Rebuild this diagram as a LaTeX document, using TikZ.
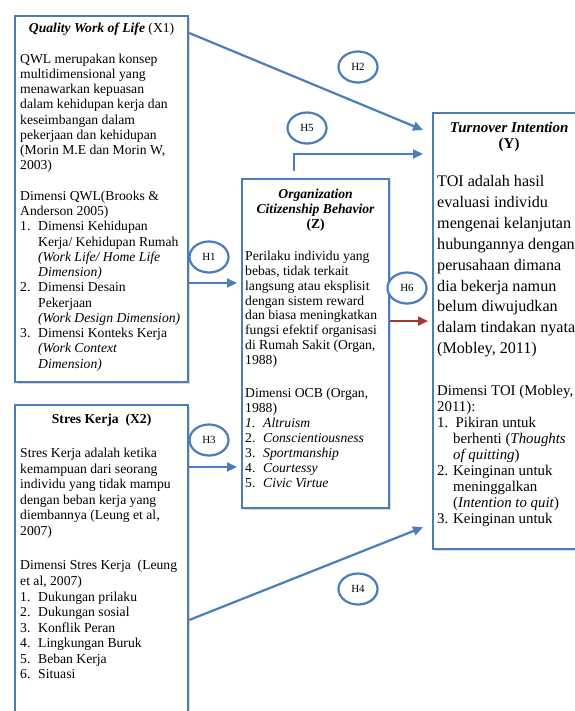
\documentclass[tikz,border=0pt]{standalone}
\usepackage{fontspec}
\setmainfont{Liberation Serif}
\usetikzlibrary{positioning,shapes.geometric,arrows.meta,shadows}
\definecolor{boxblue}{RGB}{74,126,187}
\definecolor{linkred}{RGB}{165,55,50}
\newcommand{\itm}[2][18bp]{\makebox[#1][l]{#2}}
\newcommand{\ind}[1][18bp]{\hspace*{#1}}
\tikzset{
  var/.style={draw=boxblue,line width=2.2bp,fill=white,anchor=north west,inner sep=0pt,
    drop shadow={opacity=0.3,shadow xshift=1.5bp,shadow yshift=-1.5bp}},
  ttl/.style={font=\fontsize{13.7}{15}\selectfont\bfseries,align=center,inner sep=0pt},
  txt/.style={font=\fontsize{13.7}{15.3}\selectfont,align=left,inner sep=0pt},
  hyp/.style={ellipse,draw=boxblue,line width=2.2bp,fill=white,minimum width=39bp,
    minimum height=31bp,inner sep=0pt,font=\fontsize{11}{12}\selectfont,
    drop shadow={opacity=0.25,shadow xshift=1bp,shadow yshift=-1bp}},
  link/.style={draw=boxblue,line width=2.2bp,-{Triangle[length=10bp,width=9bp]}},
}
\begin{document}
\begin{tikzpicture}[x=1bp,y=-1bp]
  \useasboundingbox (0,0) rectangle (575,711);
  \fill[white] (0,0) rectangle (575,711);
  \clip (0,0) rectangle (575,711);

  % variables
  \node[var,minimum width=173bp,minimum height=366bp] (x1) at (14,15) {};
  \node[var,minimum width=173bp,minimum height=340bp] (x2) at (14,404) {};
  \node[var,minimum width=147bp,minimum height=329bp] (z) at (241,178) {};
  \node[var,minimum width=152bp,minimum height=436bp] (y) at (432,112) {};

  % X1
  \node[ttl,below=8bp of x1.north] (x1t) {\textit{Quality Work of Life} \textmd{(X1)}};
  \node[txt,below right=38.5bp and 6bp of x1.north west] (x1b) {%
    QWL merupakan konsep\\
    multidimensional yang\\
    menawarkan kepuasan\\
    dalam kehidupan kerja dan\\
    keseimbangan dalam\\
    pekerjaan dan kehidupan\\
    (Morin M.E dan Morin W,\\
    2003)\\[15.3bp]
    Dimensi QWL(Brooks \&\\
    Anderson 2005)\\
    \itm{1.}Dimensi Kehidupan\\
    \ind Kerja/ Kehidupan Rumah\\
    \ind\textit{(Work Life/ Home Life}\\
    \ind\textit{Dimension)}\\
    \itm{2.}Dimensi Desain\\
    \ind Pekerjaan\\
    \ind\textit{(Work Design Dimension)}\\
    \itm{3.}Dimensi Konteks Kerja\\
    \ind\textit{(Work Context}\\
    \ind\textit{Dimension)}};

  % X2
  \node[ttl,below=10bp of x2.north] (x2t) {Stres Kerja\ \ (X2)};
  \node[txt,font=\fontsize{13.7}{15.6}\selectfont,below right=44bp and 6bp of x2.north west] (x2b) {%
    Stres Kerja adalah ketika\\
    kemampuan dari seorang\\
    individu yang tidak mampu\\
    dengan beban kerja yang\\
    diembannya (Leung et al,\\
    2007)\\[19bp]
    Dimensi Stres Kerja\ \ (Leung\\
    et al, 2007)\\
    \itm{1.}Dukungan prilaku\\
    \itm{2.}Dukungan sosial\\
    \itm{3.}Konflik Peran\\
    \itm{4.}Lingkungan Buruk\\
    \itm{5.}Beban Kerja\\
    \itm{6.}Situasi};

  % Z
  \node[ttl,below=11bp of z.north] (zt) {\textit{Organization}\\ \textit{Citizenship Behavior}\\ (Z)};
  \node[txt,font=\fontsize{13.7}{15}\selectfont,below right=72.5bp and 4bp of z.north west] (zb) {%
    Perilaku individu yang\\
    bebas, tidak terkait\\
    langsung atau eksplisit\\
    dengan sistem reward\\
    dan biasa meningkatkan\\
    fungsi efektif organisasi\\
    di Rumah Sakit (Organ,\\
    1988)\\[18bp]
    Dimensi OCB (Organ,\\
    1988)\\
    \itm{\textit{1.}}\textit{Altruism}\\
    \itm{2.}\textit{Conscientiousness}\\
    \itm{3.}\textit{Sportmanship}\\
    \itm{4.}\textit{Courtessy}\\
    \itm{5.}\textit{Civic Virtue}};

  % Y
  \node[ttl,font=\fontsize{15}{16}\selectfont\bfseries,below=9.5bp of y.north] (yt) {\textit{Turnover Intention}\\ (Y)};
  \node[txt,font=\fontsize{16.2}{21}\selectfont,below right=63bp and 5bp of y.north west] (yb) {%
    TOI adalah hasil\\
    evaluasi individu\\
    mengenai kelanjutan\\
    hubungannya dengan\\
    perusahaan dimana\\
    dia bekerja namun\\
    belum diwujudkan\\
    dalam tindakan nyata\\
    (Mobley, 2011)};
  \node[txt,font=\fontsize{14.9}{16}\selectfont,below right=273bp and 5bp of y.north west] (yd) {%
    Dimensi TOI (Mobley,\\
    2011):\\
    \itm[16bp]{1.}\,Pikiran untuk\\
    \ind[16bp]berhenti (\textit{Thoughts}\\
    \ind[16bp]\textit{of quitting})\\
    \itm[16bp]{2.}Keinginan untuk\\
    \ind[16bp]meninggalkan\\
    \ind[16bp](\textit{Intention to quit})\\
    \itm[16bp]{3.}Keinginan untuk};

  % hypotheses
  \draw[link] ([yshift=-18bp]x1.north east) -- ([xshift=-9bp,yshift=-18bp]y.north west);
  \draw[link] ([xshift=-21.5bp,yshift=7bp]z.north) |- ([xshift=-9bp,yshift=-42bp]y.north west);
  \draw[link,shorten >=4bp] ([yshift=-268bp]x1.north east) -- ([yshift=-268bp]x1.north east -| z.west);
  \draw[link,shorten >=4bp] ([yshift=-63bp]x2.north east) -- ([yshift=-63bp]x2.north east -| z.west);
  \draw[link] ([yshift=-216bp]x2.north east) -- ([xshift=-9bp,yshift=23bp]y.south west);
  \draw[link,draw=linkred,fill=linkred,shorten >=4bp] ([yshift=22.5bp]z.east) -- ([yshift=22.5bp]z.east -| y.west);

  \node[hyp] (h1) at (209,257) {H1};
  \node[hyp] (h2) at (358,67) {H2};
  \node[hyp] (h3) at (209,440) {H3};
  \node[hyp] (h4) at (358,589) {H4};
  \node[hyp] (h5) at (307,128) {H5};
  \node[hyp] (h6) at (407,288) {H6};
\end{tikzpicture}
\end{document}
